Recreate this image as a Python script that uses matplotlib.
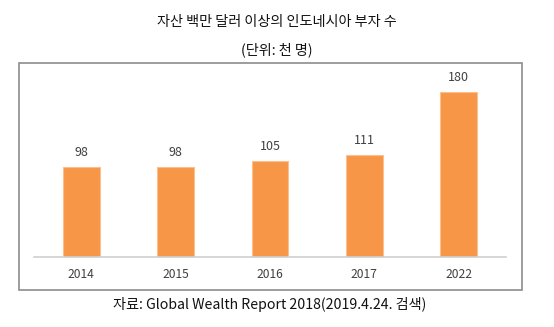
import matplotlib
matplotlib.use('Agg')
import matplotlib.pyplot as plt
from matplotlib.patches import Rectangle

plt.rcParams['font.family'] = ['Noto Sans CJK KR', 'DejaVu Sans']

years = ['2014', '2015', '2016', '2017', '2022']
rich_count = [98, 98, 105, 111, 180]

W, H = 554, 327
fig = plt.figure(figsize=(W / 100, H / 100), dpi=100)
fig.patch.set_facecolor('white')

# outer chart frame
frame = Rectangle((19 / W, 1 - 290 / H), (522 - 19) / W, (290 - 63) / H,
                  transform=fig.transFigure, fill=False,
                  edgecolor='#8c8c8c', linewidth=1.2)
fig.add_artist(frame)

ax = fig.add_axes([34 / W, 1 - 257 / H, (506 - 34) / W, 183 / H])
x = range(len(years))
ax.bar(x, rich_count, width=0.39, color='#F79646', edgecolor='#FBC08F', linewidth=0.8)

for xi, v in zip(x, rich_count):
    ax.annotate(str(v), xy=(xi, v), xytext=(0, 6), textcoords='offset points',
                ha='center', va='bottom', fontsize=9, color='#404040')

ax.set_xlim(-0.5, len(years) - 0.5)
ax.set_ylim(0, 200)
ax.set_xticks(list(x))
ax.set_xticklabels(years, fontsize=8.7, color='#404040')
ax.tick_params(axis='x', length=0, pad=8)
ax.set_yticks([])
for side in ['top', 'right', 'left']:
    ax.spines[side].set_visible(False)
ax.spines['bottom'].set_color('#d0d0d0')
ax.spines['bottom'].set_linewidth(1.2)

fig.text(0.5, 1 - 22 / H, '자산 백만 달러 이상의 인도네시아 부자 수',
         ha='center', va='center', fontsize=10.2, color='#111111')
fig.text(0.5, 1 - 50 / H, '(단위: 천 명)',
         ha='center', va='center', fontsize=10.2, color='#111111')
fig.text(270 / W, 1 - 304 / H, '자료: Global Wealth Report 2018(2019.4.24. 검색)',
         ha='center', va='center', fontsize=10.2, color='#111111')

fig.savefig('out.png', dpi=100, facecolor='white')
